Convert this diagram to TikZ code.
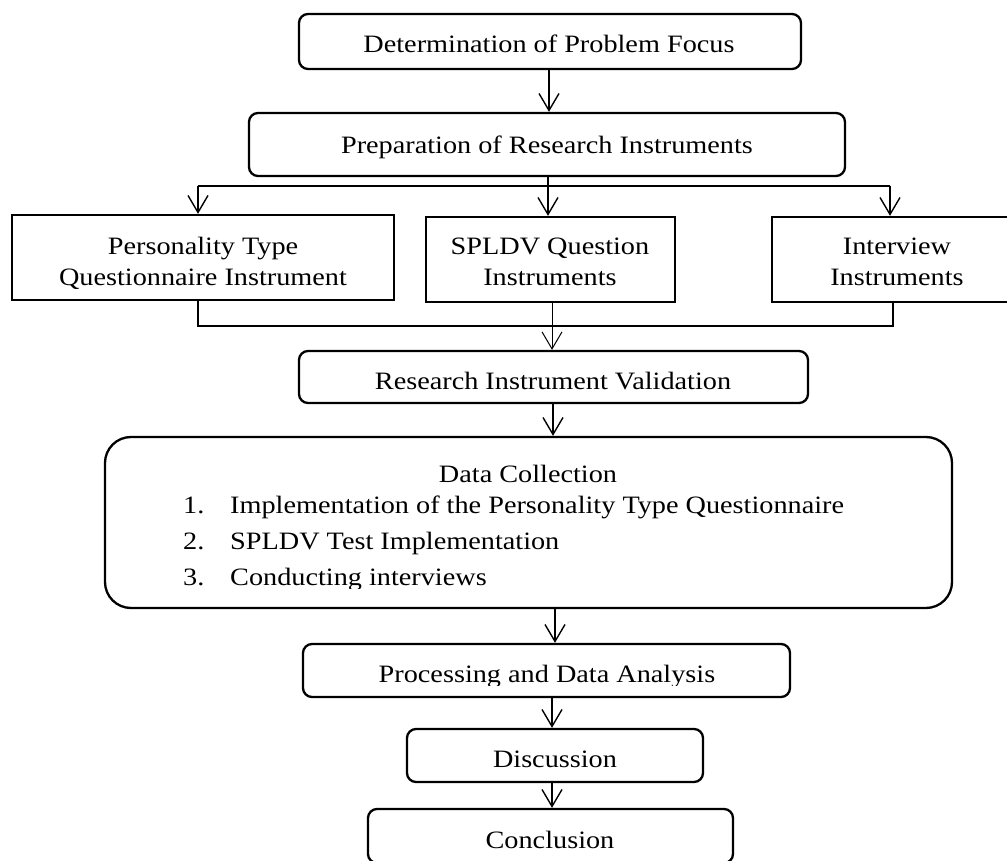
\documentclass[tikz,border=0pt]{standalone}
\usepackage{fontspec}
\setmainfont{Liberation Serif}[FakeStretch=1.13]
\usetikzlibrary{arrows.meta}
\begin{document}
\begin{tikzpicture}[x=1pt,y=-1pt,
  rbox/.style={draw, line width=2.3pt, rounded corners=9pt, inner sep=0pt},
  sbox/.style={draw, line width=2.3pt, inner sep=0pt},
  txt/.style={inner sep=0pt, anchor=base, font=\fontsize{25}{31}\selectfont, align=center},
  ltxt/.style={inner sep=0pt, anchor=base west, font=\fontsize{25}{31}\selectfont},
  arr/.style={line width=1.4pt, -{Straight Barb[length=17pt,width=20pt]}},
  conn/.style={line width=1.4pt},
  joinline/.style={line width=2.3pt}]
\useasboundingbox (0,0) rectangle (1007,861);
\clip (0,0) rectangle (1007,861);

% boxes
\node[rbox, minimum width=502pt, minimum height=55pt] (b1) at (550,41.5) {};
\node[rbox, minimum width=596pt, minimum height=63pt] (b2) at (547,144.5) {};
\node[sbox, minimum width=382pt, minimum height=85pt] (b3) at (203,257.5) {};
\node[sbox, minimum width=249pt, minimum height=85pt] (b4) at (550.5,259.5) {};
\node[sbox, minimum width=250pt, minimum height=85pt] (b5) at (897,259.5) {};
\node[rbox, minimum width=509pt, minimum height=52pt] (b6) at (553.5,377) {};
\node[rbox, rounded corners=26pt, minimum width=847pt, minimum height=171pt] (b7) at (528.5,522.5) {};
\node[rbox, minimum width=487pt, minimum height=53pt] (b8) at (546.5,670.5) {};
\node[rbox, minimum width=296pt, minimum height=53pt] (b9) at (555,755.5) {};
\node[rbox, minimum width=365pt, minimum height=54pt] (b10) at (550.5,836) {};

% texts
\node[txt] (t1) at (549,53) {Determination of Problem Focus};
\node[txt] (t2) at (547,154) {Preparation of Research Instruments};
\node[txt] (t3) at (203,285) {Personality Type\\Questionnaire Instrument};
\node[txt] (t4) at (550,285) {SPLDV Question\\Instruments};
\node[txt] (t5) at (897,285) {Interview\\Instruments};
\node[txt] (t6) at (553,389) {Research Instrument Validation};
\node[txt] (t7) at (528,482) {Data Collection};
\node[ltxt] (n1) at (183,513) {1.};
\node[ltxt] (i1) at (230,513) {Implementation of the Personality Type Questionnaire};
\node[ltxt] (n2) at (183,549) {2.};
\node[ltxt] (i2) at (230,549) {SPLDV Test Implementation};
\node[ltxt] (n3) at (183,585) {3.};
\begin{scope}
  \clip (200,550) rectangle (700,588);
  \node[ltxt] (i3) at (230,585) {Conducting interviews};
\end{scope}
\begin{scope}
  \clip (300,645) rectangle (790,685);
  \node[txt] (t8) at (547,682) {Processing and Data Analysis};
\end{scope}
\node[txt] (t9) at (555,767) {Discussion};
\node[txt] (t10) at (550,848) {Conclusion};

% connectors
\draw[arr] (b1.south -| 549,0) -- (b2.north -| 549,0);
\coordinate (j) at (548,186);
\coordinate (jl) at (198,186);
\coordinate (jr) at (890,186);
\draw[conn] (b2.south -| j) -- (j);
\draw[conn] (jl) -- (jr);
\draw[arr] (jl) -- (jl |- b3.north);
\draw[arr] (j) -- (j |- b4.north);
\draw[arr] (jr) -- (jr |- b5.north);

\coordinate (kl) at (198,326);
\coordinate (kr) at (893,326);
\coordinate (kc) at (552,326);
\draw[joinline] (kl |- b3.south) -- (kl) -- (kr) -- (kr |- b5.south);
\draw[arr, line width=1pt] (b4.south -| kc) -- (kc |- b6.north);

\coordinate (c6) at (553,420);
\draw[arr] (b6.south -| c6) -- (b7.north -| c6);
\coordinate (c7) at (555,620);
\draw[arr] (b7.south -| c7) -- (b8.north -| c7);
\coordinate (c8) at (552,710);
\draw[arr] (b8.south -| c8) -- (b9.north -| c8);
\draw[arr] (b9.south -| c8) -- (b10.north -| c8);
\end{tikzpicture}
\end{document}
